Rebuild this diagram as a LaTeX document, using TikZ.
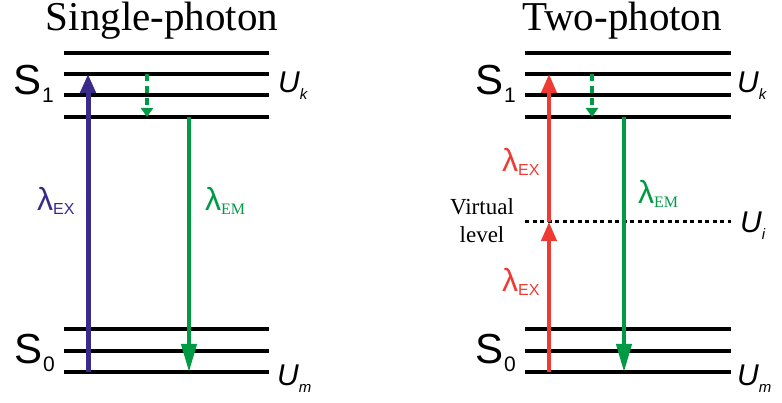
\documentclass[tikz,border=0pt]{standalone}
\usepackage{fontspec}
\setmainfont{Liberation Serif}
\setsansfont{Liberation Sans}
\usetikzlibrary{arrows.meta}

\definecolor{exviolet}{RGB}{59,42,138}
\definecolor{emgreen}{RGB}{0,154,68}
\definecolor{exred}{RGB}{238,58,51}

\newcommand{\lowsub}[3]{{\fontsize{#1}{#1}\selectfont\raisebox{-#2}{#3}}}

\tikzstyle{level} = [line width=3.5pt, black]
\tikzstyle{virtual} = [line width=3pt, black, dash pattern=on 4pt off 3.5pt]
\tikzstyle{title} = [
    font=\rmfamily\fontsize{41}{41}\selectfont,
    inner sep=0pt,
    anchor=base
]
\tikzstyle{state} = [
    font=\sffamily\fontsize{42}{42}\selectfont,
    inner sep=0pt,
    anchor=base west
]
\tikzstyle{energy} = [
    font=\sffamily\itshape\fontsize{30}{30}\selectfont,
    inner sep=0pt,
    anchor=base west
]
\tikzstyle{wave} = [
    font=\sffamily\fontsize{32}{32}\selectfont,
    inner sep=0pt,
    anchor=base west
]
\tikzstyle{excite} = [line width=5pt, -{Triangle[width=15pt,length=19pt]}]
\tikzstyle{emit} = [line width=4pt, emgreen, -{Triangle[width=15pt,length=28pt]}]
\tikzstyle{relax} = [line width=3.5pt, emgreen, dash pattern=on 7pt off 5pt,
    -{Triangle[width=12pt,length=9pt]}]

\begin{document}
\begin{tikzpicture}[x=1pt, y=-1pt]
\useasboundingbox (0,0) rectangle (782,403);

\node (single) [title] at (162,31) {Single-photon};
\node (two) [title] at (622,31) {Two-photon};

% energy levels
\foreach \y in {53,74,95,117,329,351,372} {
    \draw [level] (64,\y) -- (269,\y);
    \draw [level] (525,\y) -- (731,\y);
}
\draw [virtual] (525,222) -- (731,222);

% single-photon
\coordinate (a0) at (88,372);
\coordinate (a1) at (88,74);
\coordinate (r0) at (147,74);
\coordinate (r1) at (147,117);
\coordinate (e0) at (189,117);
\coordinate (e1) at (189,372);

\draw [excite, exviolet] (a0) -- (a1);
\draw [relax] (r0) -- (r1);
\draw [emit] (e0) -- (e1);

% two-photon
\coordinate (b0) at (549,372);
\coordinate (bv) at (549,222);
\coordinate (b1) at (549,74);
\coordinate (s0) at (592,74);
\coordinate (s1) at (592,117);
\coordinate (f0) at (624,117);
\coordinate (f1) at (624,372);

\draw [excite, exred, line width=4pt] (b0) -- (bv);
\draw [excite, exred, line width=4pt] (bv) -- (b1);
\draw [relax] (s0) -- (s1);
\draw [emit] (f0) -- (f1);

% labels
\node (S1a) [state] at (13,95) {S\kern1pt\lowsub{21}{8pt}{1}};
\node (S0a) [state] at (14,363) {S\kern1pt\lowsub{21}{8pt}{0}};
\node (S1b) [state] at (475,95) {S\kern1pt\lowsub{21}{8pt}{1}};
\node (S0b) [state] at (475,363) {S\kern1pt\lowsub{21}{8pt}{0}};

\node (Uka) [energy] at (278,93) {U\lowsub{15}{7pt}{k}};
\node (Uma) [energy] at (277,385) {U\lowsub{15}{7pt}{m}};
\node (Ukb) [energy] at (737,93) {U\lowsub{15}{7pt}{k}};
\node (Umb) [energy] at (737,385) {U\lowsub{15}{7pt}{m}};
\node (Uib) [energy] at (740,233) {U\lowsub{15}{7pt}{i}};

\node (exA) [wave, exviolet] at (37,211) {λ\lowsub{16}{4pt}{EX}};
\node (emA) [wave, emgreen] at (205,211) {λ\lowsub{16}{4pt}{\rmfamily EM}};
\node (exB) [wave, exred] at (502,172) {λ\lowsub{16}{4pt}{EX}};
\node (exC) [wave, exred] at (502,292) {λ\lowsub{16}{4pt}{EX}};
\node (emB) [wave, emgreen] at (638,204) {λ\lowsub{16}{4pt}{\rmfamily EM}};

\node (virt) [font=\rmfamily\fontsize{23}{28}\selectfont, align=center,
    inner sep=0pt] at (482,221) {Virtual\\level};

\end{tikzpicture}
\end{document}
